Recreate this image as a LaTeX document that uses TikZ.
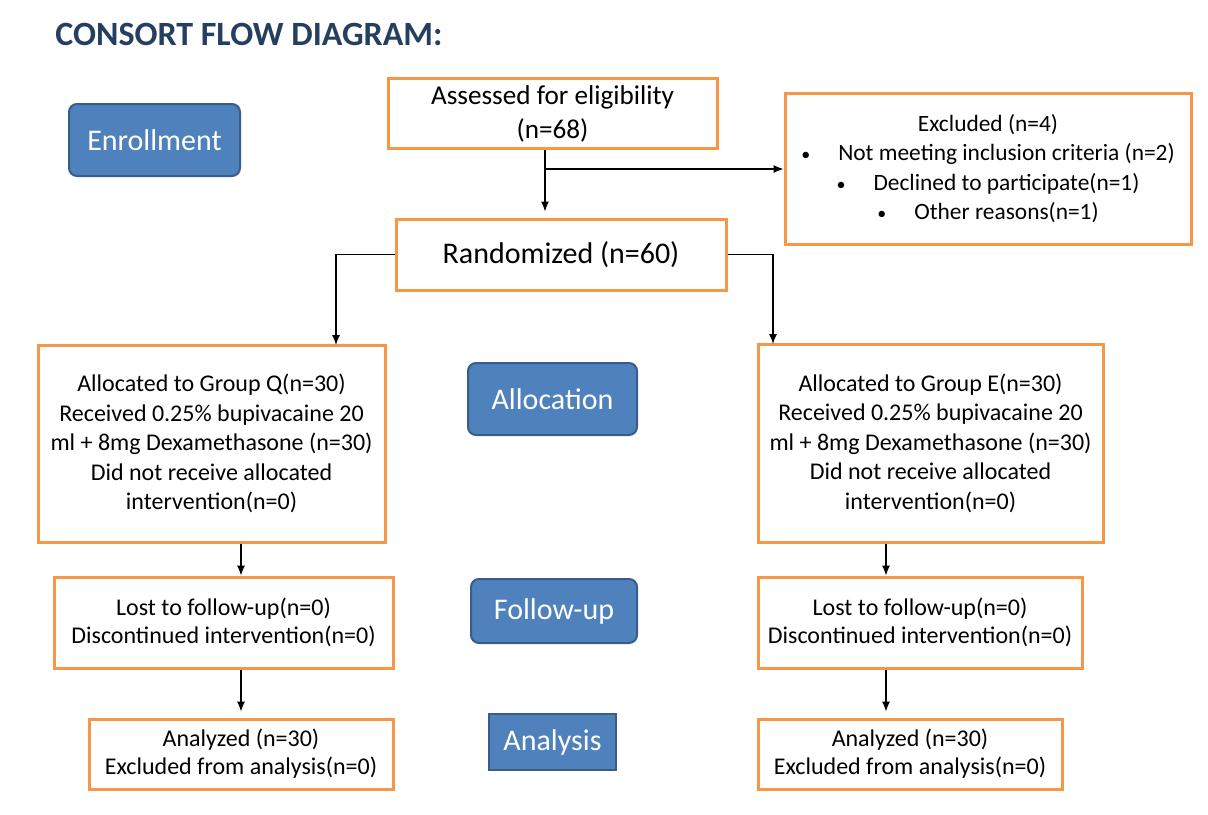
\documentclass[tikz,border=0pt]{standalone}
\usepackage{fontspec}
\setmainfont{Carlito}
\usepackage{xcolor}
\usepackage{tikz}
\usetikzlibrary{shapes,arrows,arrows.meta}
\definecolor{boxorange}{HTML}{F79646}
\definecolor{stageblue}{HTML}{4F81BD}
\definecolor{stageedge}{HTML}{385D8A}
\definecolor{titlenavy}{HTML}{243F60}
\newcommand{\bul}{{\fontsize{9pt}{9pt}\selectfont\textbullet}\hspace{14pt}}
\tikzstyle{line} = [draw, line width=0.6pt, -{Latex[length=5pt,width=4pt]}]
\tikzstyle{block} = [rectangle, draw=boxorange, line width=1.5pt, fill=white,
                     inner sep=0pt, align=center,
                     font=\fontsize{12pt}{14.75pt}\selectfont]
\tikzstyle{stage} = [rectangle, draw=stageedge, line width=1pt, fill=stageblue,
                     text=white, rounded corners=4pt, inner sep=0pt,
                     font=\fontsize{15pt}{18pt}\selectfont]

\begin{document}
\begin{tikzpicture}[x=0.5pt, y=-0.5pt]
\useasboundingbox (0,0) rectangle (1208,814);

\node [anchor=base west, text=titlenavy, inner sep=0pt,
       font=\fontsize{17pt}{20pt}\selectfont\bfseries] (title) at (55,45) {CONSORT FLOW DIAGRAM:};

% stage labels
\node [stage, minimum width=85.5pt, minimum height=36pt] (enroll) at (154.5,140) {Enrollment};
\node [stage, minimum width=84.5pt, minimum height=36pt] (alloc) at (552.5,399) {Allocation};
\node [stage, minimum width=83pt, minimum height=32pt] (follow) at (554,611) {Follow-up};
\node [stage, rounded corners=0pt, minimum width=63.5pt, minimum height=28pt] (analysis) at (552.5,742) {Analysis};

% flow boxes
\node [block, minimum width=164.5pt, minimum height=35pt,
       font=\fontsize{13.6pt}{17pt}\selectfont] (assess) at (552.5,113.5) {Assessed for eligibility\\(n=68)};
\node [block, minimum width=203pt, minimum height=75.5pt,
       font=\fontsize{11.7pt}{14.8pt}\selectfont] (excl) at (988,168.5)
      {Excluded (n=4)\\
       \bul Not meeting inclusion criteria (n=2)\\
       \bul Declined to participate(n=1)\\
       \bul Other reasons(n=1)};
\node [block, minimum width=165pt, minimum height=35.5pt,
       font=\fontsize{15pt}{18pt}\selectfont] (rand) at (561,254.5) {Randomized (n=60)};

\node [block, minimum width=173.5pt, minimum height=98.5pt] (groupQ) at (211.5,443.5)
      {Allocated to Group Q(n=30)\\Received 0.25\% bupivacaine 20\\ml + 8mg Dexamethasone (n=30)\\Did not receive allocated\\intervention(n=0)};
\node [block, minimum width=172.5pt, minimum height=99pt] (groupE) at (930.5,443)
      {Allocated to Group E(n=30)\\Received 0.25\% bupivacaine 20\\ml + 8mg Dexamethasone (n=30)\\Did not receive allocated\\intervention(n=0)};

\node [block, minimum width=169.5pt, minimum height=45.5pt,
       font=\fontsize{12pt}{14pt}\selectfont] (lostQ) at (223.5,622.5) {Lost to follow-up(n=0)\\Discontinued intervention(n=0)};
\node [block, minimum width=162pt, minimum height=45.5pt,
       font=\fontsize{12pt}{14pt}\selectfont] (lostE) at (920,622.5) {Lost to follow-up(n=0)\\Discontinued intervention(n=0)};

\node [block, minimum width=152pt, minimum height=35pt,
       font=\fontsize{12pt}{14pt}\selectfont] (anaQ) at (241,754) {Analyzed (n=30)\\Excluded from analysis(n=0)};
\node [block, minimum width=152pt, minimum height=35pt,
       font=\fontsize{12pt}{14pt}\selectfont] (anaE) at (910,754) {Analyzed (n=30)\\Excluded from analysis(n=0)};

% connectors
\coordinate (split) at (545,169);
\coordinate (qcol) at (241,0);
\coordinate (ecol) at (886,0);
\coordinate (qin) at (336,345);
\coordinate (ein) at (773,344);

\path [line, shorten >=3pt] (assess.south -| split) -- (rand.north -| split);
\path [line] (split) -- (excl.west |- split);
\path [line] (rand.west) -| (qin);
\path [line] (rand.east) -| (ein);
\path [line] (groupQ.south -| qcol) -- (lostQ.north -| qcol);
\path [line, shorten >=3pt] (lostQ.south -| qcol) -- (anaQ.north -| qcol);
\path [line] (groupE.south -| ecol) -- (lostE.north -| ecol);
\path [line, shorten >=3pt] (lostE.south -| ecol) -- (anaE.north -| ecol);

\end{tikzpicture}
\end{document}
